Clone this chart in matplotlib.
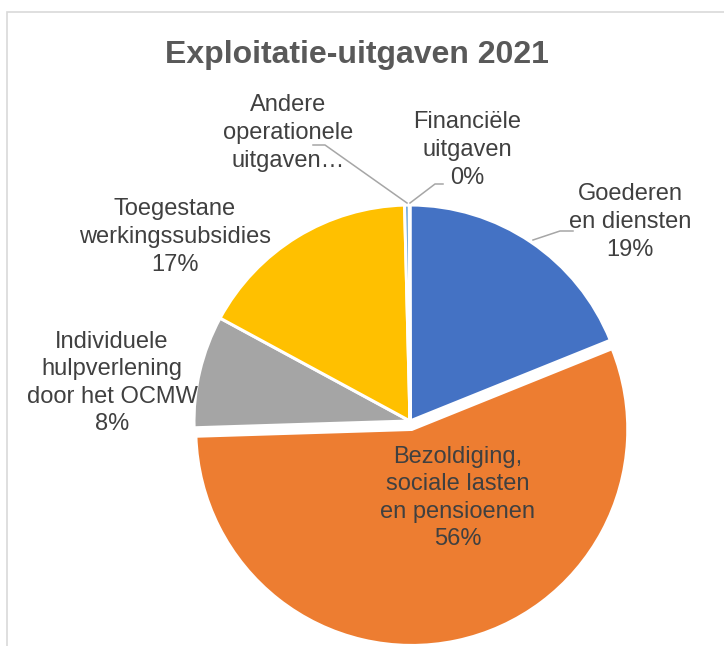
import matplotlib.pyplot as plt
from matplotlib.patches import Rectangle
import numpy as np

# data
categories = ['Goederen\nen diensten', 'Bezoldiging,\nsociale lasten\nen pensioenen',
              'Individuele\nhulpverlening\ndoor het OCMW', 'Toegestane\nwerkingssubsidies',
              'Andere\noperationele\nuitgaven…', 'Financiële\nuitgaven']
values = [18.9, 55.6, 8.4, 16.7, 0.35, 0.05]
pct_labels = ['19%', '56%', '8%', '17%', None, '0%']
colors = ['#4472C4', '#ED7D31', '#A5A5A5', '#FFC000', '#5B9BD5', '#70AD47']

W, H = 724, 646
CX, CY, R = 410, 421, 216

plt.rcParams['font.family'] = ['Liberation Sans', 'DejaVu Sans']
fig = plt.figure(figsize=(W / 100, H / 100), dpi=100)

# chart frame
fig.patches.append(Rectangle((7 / W, -0.1), 1.1, 1 - 12 / H + 0.1, transform=fig.transFigure,
                             fill=False, edgecolor='#D9D9D9', linewidth=1.2))

ax = fig.add_axes([(CX - R) / W, (H - CY - R) / H, 2 * R / W, 2 * R / H])
wedges, _ = ax.pie(values, colors=colors, startangle=90, counterclock=False,
                   explode=[0, 0.04, 0, 0, 0, 0],
                   wedgeprops=dict(edgecolor='white', linewidth=2.2))
for w in wedges:
    w.set_clip_on(False)
ax.set_xlim(-1, 1)
ax.set_ylim(-1, 1)
ax.set_aspect('equal')
ax.axis('off')


def px(x, y):
    return (x - CX) / R, (CY - y) / R


# label centres in pixels
label_pos = [(630, 222), (458, 498), (112, 383), (175, 237), (288, 133), (467, 150)]
txt = '#404040'
for cat, pct, (lx, ly) in zip(categories, pct_labels, label_pos):
    s = cat if pct is None else cat + '\n' + pct
    x, y = px(lx, ly)
    ax.text(x, y, s, ha='center', va='center', fontsize=17, color=txt,
            linespacing=1.33, clip_on=False)

# leader lines
leaders = [
    [(573, 231), (560, 231), (533, 240)],
    [(313, 145), (325, 145), (407, 203)],
    [(443, 184), (435, 184), (410, 203)],
]
for pts in leaders:
    xs, ys = zip(*[px(a, b) for a, b in pts])
    ax.plot(xs, ys, color='#A6A6A6', linewidth=1.1, clip_on=False)

fig.text(357 / W, 1 - 55 / H, 'Exploitatie-uitgaven 2021', ha='center', va='center',
         fontsize=23, fontweight='bold', color='#595959')

fig.savefig('out.png', dpi=100)
